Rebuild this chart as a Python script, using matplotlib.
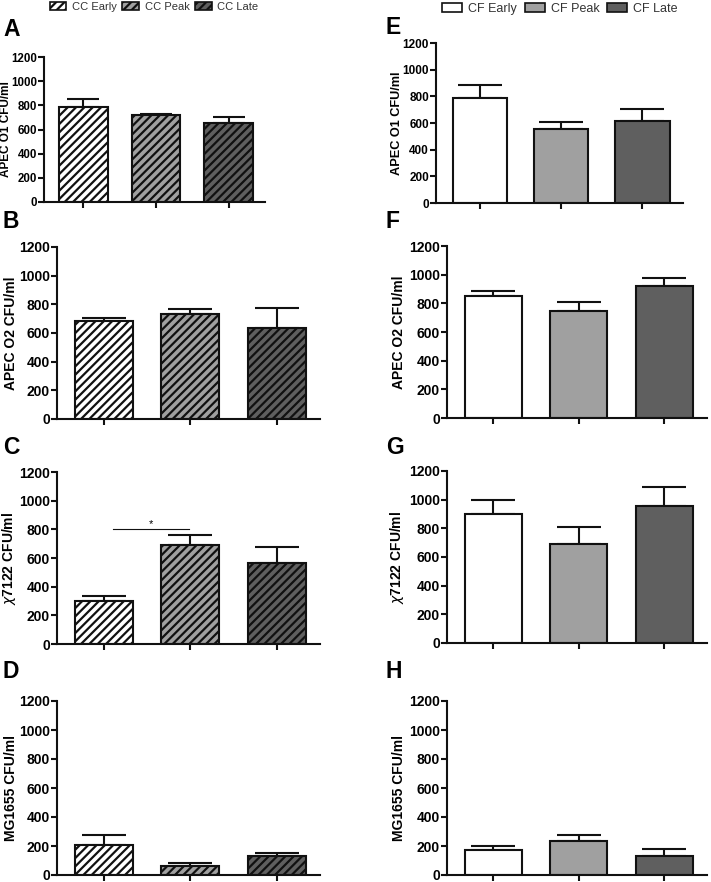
import numpy as np
import matplotlib
matplotlib.use("Agg")
import matplotlib.pyplot as plt
from matplotlib.patches import Patch

plt.rcParams['font.family'] = ['Liberation Sans', 'DejaVu Sans']
plt.rcParams['hatch.linewidth'] = 1.6

# groups
cc_names = ['CC Early', 'CC Peak', 'CC Late']
cf_names = ['CF Early', 'CF Peak', 'CF Late']
colors = ['#ffffff', '#a0a0a0', '#5f5f5f']

# CC panels (mean, upper error bar end)
A_mean = [784, 718, 654];  A_top = [853, 732, 707]
B_mean = [687, 733, 634];  B_top = [706, 766, 773]
C_mean = [297, 689, 566];  C_top = [334, 757, 675]
D_mean = [204, 62, 128];   D_top = [273, 80, 154]
# CF panels
E_mean = [790, 553, 618];  E_top = [888, 605, 708]
F_mean = [850, 746, 924];  F_top = [885, 806, 980]
G_mean = [900, 693, 956];  G_top = [995, 807, 1086]
H_mean = [170, 236, 128];  H_top = [197, 275, 181]

ylabels = {'A': 'APEC O1 CFU/ml', 'B': 'APEC O2 CFU/ml', 'C': r'$\chi$7122 CFU/ml',
           'D': 'MG1655 CFU/ml', 'E': 'APEC O1 CFU/ml', 'F': 'APEC O2 CFU/ml',
           'G': r'$\chi$7122 CFU/ml', 'H': 'MG1655 CFU/ml'}

W, H = 711, 882
fig = plt.figure(figsize=(W / 100, H / 100), dpi=100)

def px_axes(x0, x1, ytop, ybot):
    return fig.add_axes([x0 / W, (H - ybot) / H, (x1 - x0) / W, (ybot - ytop) / H])

# panel boxes in pixels: x0, x1, y(1200), y(0); letter position; y-label right edge;
# cap size; tick font; label font
panels = [
    ('A', A_mean, A_top, True, (44, 265, 57, 202), (3, 30), 12.5, 16, 8.3, 8.5),
    ('B', B_mean, B_top, True, (57, 320, 247, 419), (3, 222), 18, 22, 10, 10),
    ('C', C_mean, C_top, True, (57, 320, 472, 644), (3, 447), 18, 22, 10, 10),
    ('D', D_mean, D_top, True, (57, 320, 701, 875), (3, 672), 18, 22, 10, 10),
    ('E', E_mean, E_top, False, (436, 683, 43, 203), (386, 28), 403, 22, 8.5, 9.2),
    ('F', F_mean, F_top, False, (447, 707, 246, 418), (386, 222), 406, 22, 10, 10),
    ('G', G_mean, G_top, False, (447, 707, 471, 643), (386, 447), 406, 22, 10, 10),
    ('H', H_mean, H_top, False, (447, 707, 701, 875), (386, 672), 406, 22, 10, 10),
]

x = np.arange(3)
for name, mean, top, hatched, box, lab, ylx, cap, tfs, lfs in panels:
    ax = px_axes(*box)
    err = np.array(top) - np.array(mean)
    ax.errorbar(x, mean, yerr=[np.zeros(3), err], fmt='none', ecolor='#111111',
                elinewidth=1.5, capsize=cap * 0.72, capthick=1.5, zorder=1)
    ax.bar(x, mean, width=0.67, color=colors, edgecolor='#111111', linewidth=1.5,
           hatch='////' if hatched else None, zorder=2)
    ax.set_xlim(-0.54, 2.5)
    ax.set_ylim(0, 1200)
    ax.set_yticks(range(0, 1201, 200))
    ax.set_xticks(x)
    ax.set_xticklabels([])
    for s in ['top', 'right']:
        ax.spines[s].set_visible(False)
    for s in ['left', 'bottom']:
        ax.spines[s].set_linewidth(1.5)
        ax.spines[s].set_color('#111111')
    ax.tick_params(axis='both', direction='out', length=4, width=1.5, color='#111111')
    ax.tick_params(axis='y', labelsize=tfs, pad=1)
    for t in ax.get_yticklabels():
        t.set_fontweight('bold')
    ax.set_ylabel(ylabels[name], fontsize=lfs, fontweight='bold')
    x0 = box[0]
    ax.yaxis.set_label_coords((ylx - x0) / (box[1] - x0), 0.5)
    fig.text(lab[0] / W, 1 - lab[1] / H, name, fontsize=16.5, fontweight='bold',
             va='center', ha='left')
    if name == 'C':
        ax.plot([0.11, 0.99], [800, 800], color='#111111', lw=0.8)
        ax.text(0.55, 805, '*', ha='center', va='bottom', fontsize=8)

# legends
cc_handles = [Patch(facecolor=c, edgecolor='#111111', hatch='////', linewidth=1.2) for c in colors]
cf_handles = [Patch(facecolor=c, edgecolor='#111111', linewidth=1.2) for c in colors]
fig.legend(cc_handles, cc_names, loc='center', bbox_to_anchor=(154 / W, 1 - 7 / H), ncol=3,
           frameon=False, fontsize=8, handlelength=1.5, handleheight=0.7,
           columnspacing=0.5, handletextpad=0.5, borderpad=0, labelcolor='#333333')
fig.legend(cf_handles, cf_names, loc='center', bbox_to_anchor=(560 / W, 1 - 9 / H), ncol=3,
           frameon=False, fontsize=9, handlelength=1.6, handleheight=0.7,
           columnspacing=0.6, handletextpad=0.5, borderpad=0, labelcolor='#333333')

fig.savefig('out.png', dpi=100)
